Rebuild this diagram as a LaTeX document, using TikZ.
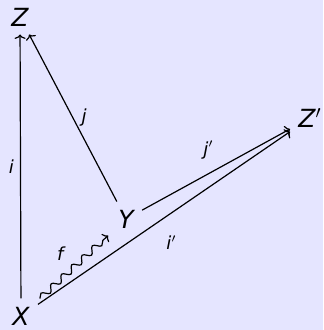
\documentclass[tikz,border=0pt]{standalone}
\usepackage{fontspec}
\setmainfont{DejaVu Sans}
\usetikzlibrary{arrows.meta, decorations.pathmorphing, calc, positioning}
\definecolor{lavender}{RGB}{229,229,255}

\tikzset{
  obj/.style={inner sep=4pt, font=\fontsize{12.5}{14}\selectfont\itshape},
  lbl/.style={inner sep=2pt, font=\fontsize{9}{10}\selectfont\itshape},
  mor/.style={->, line width=0.6pt},
  squig/.style={->, line width=0.6pt, decorate,
    decoration={snake, amplitude=1.6pt, segment length=7pt, post length=3pt}}
}

\begin{document}
\begin{tikzpicture}[x=0.5pt, y=-0.5pt, >={To[length=2.2pt, width=5.5pt]}]
        % background
        \fill [lavender] (0,0) rectangle (323,330);
        \useasboundingbox (0,0) rectangle (323,330);

        % objects
        \node [obj] (Z) at (20,17) {Z};
        \node [obj] (X) at (21,316) {X};
        \node [obj] (Y) at (126,219) {Y};
        \node [obj] (Zp) at (310,118) {Z$'$};

        % morphisms
        \draw [mor] (X) -- (Z) node[midway, left=1pt, lbl] {i};
        \draw [mor] (Y) -- (Z) node[midway, right=2pt, lbl] {j};
        \draw [mor] (Y) -- (Zp) node[pos=0.45, above=5pt, lbl] {j$'$};
        \draw [mor] (X) -- (Zp) node[pos=0.53, below=9pt, lbl] {i$'$};

        % factorisation
        \coordinate (fs) at ($(X)!0.18!(Y)$);
        \coordinate (fe) at ($(X)!0.83!(Y)$);
        \draw [squig] (fs) -- (fe) node[midway, above left=1pt and 3pt, lbl] {f};
    \end{tikzpicture}
\end{document}
